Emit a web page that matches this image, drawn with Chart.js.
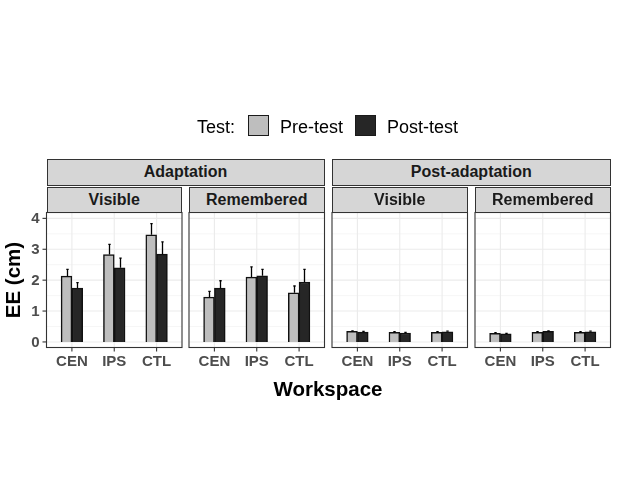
<!DOCTYPE html>
<html>
<head>
<meta charset="utf-8">
<script src="https://cdn.jsdelivr.net/npm/chart.js@4.4.1/dist/chart.umd.min.js"></script>
<style>
  body { margin:0; background:#fff; font-family:"Liberation Sans", Arial, sans-serif; }
  #wrap { position:relative; width:618px; height:500px; overflow:hidden; }
  #wrap canvas { position:absolute; left:0; top:0; }
  .strip { position:absolute; box-sizing:border-box; background:#d6d6d6; border:1px solid #333;
           color:#1a1a1a; font-weight:bold; font-size:16px; display:flex; align-items:center; justify-content:center; }
  .lbl { position:absolute; white-space:nowrap; }
  .key { position:absolute; box-sizing:border-box; width:21px; height:21px; border:1.5px solid #1a1a1a; }
</style>
</head>
<body>
<div id="wrap"></div>
<script>
// ---- data
const workspaces = ["CEN", "IPS", "CTL"];
const tests = ["Pre-test", "Post-test"];
const phases = ["Adaptation", "Post-adaptation"];
const conditions = ["Visible", "Remembered"];
const yTicks = [0, 1, 2, 3, 4];

// Adaptation / Visible
const adVisPre = [2.13, 2.83, 3.47];
const adVisPreSe = [0.22, 0.33, 0.36];
const adVisPost = [1.74, 2.40, 2.84];
const adVisPostSe = [0.18, 0.31, 0.40];
// Adaptation / Remembered
const adRemPre = [1.45, 2.10, 1.59];
const adRemPreSe = [0.19, 0.33, 0.22];
const adRemPost = [1.74, 2.14, 1.94];
const adRemPostSe = [0.24, 0.21, 0.41];
// Post-adaptation / Visible
const poVisPre = [0.34, 0.31, 0.31];
const poVisPreSe = [0.02, 0.02, 0.02];
const poVisPost = [0.32, 0.29, 0.33];
const poVisPostSe = [0.02, 0.02, 0.02];
// Post-adaptation / Remembered
const poRemPre = [0.28, 0.31, 0.31];
const poRemPreSe = [0.02, 0.02, 0.02];
const poRemPost = [0.26, 0.34, 0.33];
const poRemPostSe = [0.02, 0.02, 0.02];

const panels = [
  { pre: adVisPre, preSe: adVisPreSe, post: adVisPost, postSe: adVisPostSe, l: 46.5, r: 182 },
  { pre: adRemPre, preSe: adRemPreSe, post: adRemPost, postSe: adRemPostSe, l: 189, r: 324.5 },
  { pre: poVisPre, preSe: poVisPreSe, post: poVisPost, postSe: poVisPostSe, l: 332, r: 467.5 },
  { pre: poRemPre, preSe: poRemPreSe, post: poRemPost, postSe: poRemPostSe, l: 475, r: 610.5 },
];
const W = 618, H = 500, TOP = 212.5, BOTTOM = 347.5;
const fills = ["#bebebe", "#262626"];
const tickFont = "bold 15px 'Liberation Sans', Arial, sans-serif";

const wrap = document.getElementById("wrap");

function panelPlugin(first) {
  return {
    id: "panel",
    beforeDatasetsDraw(chart) {
      const { ctx, chartArea: a, scales: { x, y } } = chart;
      ctx.save();
      ctx.fillStyle = "#fff";
      ctx.fillRect(a.left, a.top, a.right - a.left, a.bottom - a.top);
      // minor grid
      ctx.strokeStyle = "#f0f0f0"; ctx.lineWidth = 0.6;
      yTicks.slice(0, -1).forEach(v => {
        const py = y.getPixelForValue(v + 0.5);
        ctx.beginPath(); ctx.moveTo(a.left, py); ctx.lineTo(a.right, py); ctx.stroke();
      });
      // major grid
      ctx.strokeStyle = "#ebebeb"; ctx.lineWidth = 1.1;
      yTicks.forEach(v => {
        const py = y.getPixelForValue(v);
        ctx.beginPath(); ctx.moveTo(a.left, py); ctx.lineTo(a.right, py); ctx.stroke();
      });
      workspaces.forEach((w, i) => {
        const px = x.getPixelForValue(i);
        ctx.beginPath(); ctx.moveTo(px, a.top); ctx.lineTo(px, a.bottom); ctx.stroke();
      });
      ctx.restore();
    },
    afterDatasetsDraw(chart) {
      const { ctx, chartArea: a, scales: { x, y } } = chart;
      ctx.save();
      // error bars (upper half only)
      ctx.strokeStyle = "#000"; ctx.lineWidth = 1.3;
      chart.data.datasets.forEach((ds, di) => {
        const meta = chart.getDatasetMeta(di);
        meta.data.forEach((bar, i) => {
          const v = ds.data[i].y, se = ds.se[i];
          const x0 = Math.round(bar.x) + 0.5;
          ctx.beginPath();
          ctx.moveTo(x0, y.getPixelForValue(v));
          ctx.lineTo(x0, y.getPixelForValue(v + se));
          ctx.moveTo(x0 - 1.2, y.getPixelForValue(v + se));
          ctx.lineTo(x0 + 1.2, y.getPixelForValue(v + se));
          ctx.stroke();
        });
      });
      // border
      ctx.strokeStyle = "#333"; ctx.lineWidth = 1.1;
      ctx.strokeRect(a.left, a.top, a.right - a.left, a.bottom - a.top);
      // x ticks
      ctx.fillStyle = "#4d4d4d"; ctx.font = tickFont;
      ctx.textAlign = "center"; ctx.textBaseline = "middle";
      workspaces.forEach((w, i) => {
        const px = x.getPixelForValue(i);
        ctx.beginPath(); ctx.moveTo(px, a.bottom); ctx.lineTo(px, a.bottom + 4); ctx.stroke();
        ctx.fillText(w, px, a.bottom + 14);
      });
      // y ticks on first panel
      if (first) {
        ctx.textAlign = "right";
        yTicks.forEach(v => {
          const py = y.getPixelForValue(v);
          ctx.beginPath(); ctx.moveTo(a.left - 4, py); ctx.lineTo(a.left, py); ctx.stroke();
          ctx.fillText(String(v), a.left - 7, py + 0.5);
        });
      }
      ctx.restore();
    }
  };
}

panels.forEach((p, k) => {
  const cv = document.createElement("canvas");
  cv.width = W; cv.height = H;
  wrap.appendChild(cv);
  new Chart(cv, {
    type: "bar",
    data: {
      datasets: [
        { label: tests[0], data: p.pre.map((v, i) => ({ x: i, y: v })), se: p.preSe,
          backgroundColor: fills[0], borderColor: "#111", borderWidth: 1.5 },
        { label: tests[1], data: p.post.map((v, i) => ({ x: i, y: v })), se: p.postSe,
          backgroundColor: fills[1], borderColor: "#111", borderWidth: 1.5 }
      ]
    },
    options: {
      responsive: false, animation: false,
      devicePixelRatio: 1,
      layout: { padding: { left: p.l, right: W - p.r, top: TOP, bottom: H - BOTTOM } },
      barThickness: 10.8,
      plugins: { legend: { display: false }, tooltip: { enabled: false } },
      scales: {
        x: { type: "linear", display: false, offset: false, min: -0.6, max: 2.6,
             afterBuildTicks: s => { s.ticks = workspaces.map((w, i) => ({ value: i })); } },
        y: { display: false, min: -0.18, max: 4.19 }
      }
    },
    plugins: [panelPlugin(k === 0)]
  });
});

// ---- strips, legend and titles
function addDiv(cls, text, css) {
  const d = document.createElement("div");
  d.className = cls; d.textContent = text;
  Object.assign(d.style, css);
  wrap.appendChild(d);
  return d;
}
phases.forEach((ph, j) => {
  const a = panels[j * 2], b = panels[j * 2 + 1];
  addDiv("strip", ph, { left: a.l + "px", width: (b.r - a.l) + "px", top: "159px", height: "26.5px" });
  conditions.forEach((c, m) => {
    const p = panels[j * 2 + m];
    addDiv("strip", c, { left: p.l + "px", width: (p.r - p.l) + "px", top: "187px", height: "26px" });
  });
});

addDiv("lbl", "Test:", { left: "197px", top: "116px", fontSize: "18px", lineHeight: "22px", color: "#000" });
addDiv("key", "", { left: "248px", top: "115px", background: fills[0] });
addDiv("lbl", tests[0], { left: "280px", top: "116px", fontSize: "18px", lineHeight: "22px", color: "#000" });
addDiv("key", "", { left: "355px", top: "115px", background: fills[1] });
addDiv("lbl", tests[1], { left: "387px", top: "116px", fontSize: "18px", lineHeight: "22px", color: "#000" });

addDiv("lbl", "Workspace", { left: "228px", width: "200px", textAlign: "center", top: "377px",
  fontSize: "20.5px", lineHeight: "24px", fontWeight: "bold", color: "#000" });
addDiv("lbl", "EE (cm)", { left: "-87px", width: "200px", textAlign: "center", top: "268px",
  fontSize: "20.5px", lineHeight: "24px", fontWeight: "bold", color: "#000", transform: "rotate(-90deg)" });
</script>
</body>
</html>
